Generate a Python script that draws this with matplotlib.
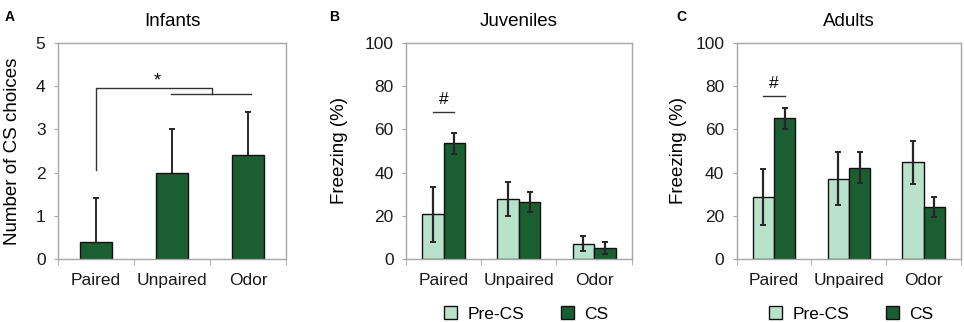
import numpy as np
import matplotlib
matplotlib.use("Agg")
import matplotlib.pyplot as plt

plt.rcParams['font.family'] = ['Liberation Sans', 'DejaVu Sans']

groups = ["Paired", "Unpaired", "Odor"]

# Panel A: infants
infant_mean = [0.4, 2.0, 2.4]
infant_err = [1.0, 1.0, 1.0]

# Panel B: juveniles (freezing %)
juv_pre = [20.6, 27.8, 7.1]
juv_pre_lo = [7.8, 19.8, 3.7]
juv_pre_hi = [33.2, 35.5, 10.5]
juv_cs = [53.7, 26.5, 5.1]
juv_cs_lo = [48.8, 21.9, 2.3]
juv_cs_hi = [58.2, 31.0, 7.9]

# Panel C: adults (freezing %)
ad_pre = [28.7, 37.1, 44.7]
ad_pre_lo = [15.6, 24.8, 34.5]
ad_pre_hi = [41.8, 49.4, 54.8]
ad_cs = [65.1, 42.3, 24.1]
ad_cs_lo = [60.3, 35.1, 19.3]
ad_cs_hi = [69.8, 49.4, 28.9]

dark = "#1b5e31"
light = "#b9e2cb"
spine_col = "#a6a6a6"
err_col = "#262626"

fig = plt.figure(figsize=(9.64, 3.22), dpi=100)


def style_axes(ax, ymax, step):
    for s in ax.spines.values():
        s.set_color(spine_col)
        s.set_linewidth(1.0)
    ax.set_xlim(-0.5, 2.5)
    ax.set_ylim(0, ymax)
    ax.set_yticks(np.arange(0, ymax + step / 2, step))
    ax.set_xticks([0, 1, 2])
    ax.set_xticklabels(groups, fontsize=12.5, color="#1a1a1a")
    ax.tick_params(axis='x', length=0, pad=10)
    ax.tick_params(axis='y', length=3, color=spine_col, labelsize=12.5,
                   labelcolor="#1a1a1a", pad=6)
    # category boundary ticks
    ax.set_xticks([-0.5, 0.5, 1.5, 2.5], minor=True)
    ax.tick_params(axis='x', which='minor', length=4, color=spine_col,
                   direction='out')


# ---- A ----
axA = fig.add_axes([0.0602, 0.1957, 0.2365, 0.671])
x = np.arange(3)
axA.bar(x, infant_mean, width=0.41, color=dark, edgecolor="#111111",
        linewidth=1.0, zorder=2)
infant_top = np.add(infant_mean, infant_err)
axA.vlines(x, infant_mean, infant_top, color=err_col, lw=1.4, zorder=3)
axA.plot(x, infant_top, ls='none', marker='_', ms=5, mew=1.4, color=err_col, zorder=3)
style_axes(axA, 5, 1)
axA.set_ylabel("Number of CS choices", fontsize=13.5, labelpad=11)
axA.set_title("Infants", fontsize=13.5, pad=12)
# significance bracket
axA.plot([0, 0, 1.53, 1.53], [2.05, 3.95, 3.95, 3.82], color="#333333", lw=1.0)
axA.plot([0.98, 2.04], [3.82, 3.82], color="#333333", lw=1.0)
axA.text(0.8, 3.92, "*", ha='center', va='bottom', fontsize=13)


def paired_panel(rect, pre, pre_lo, pre_hi, cs, cs_lo, cs_hi, title, hash_y,
                 legend_x, ylab_pad):
    ax = fig.add_axes(rect)
    w = 0.285
    xp = x - w / 2
    xc = x + w / 2
    ax.bar(xp, pre, width=w, color=light, edgecolor="#111111", linewidth=1.0,
           zorder=2, label="Pre-CS")
    ax.bar(xc, cs, width=w, color=dark, edgecolor="#111111", linewidth=1.0,
           zorder=2, label="CS")
    ax.errorbar(xp, pre, yerr=[np.subtract(pre, pre_lo), np.subtract(pre_hi, pre)],
                fmt='none', ecolor=err_col, elinewidth=1.6, capsize=2.5,
                capthick=1.4, zorder=3)
    ax.errorbar(xc, cs, yerr=[np.subtract(cs, cs_lo), np.subtract(cs_hi, cs)],
                fmt='none', ecolor=err_col, elinewidth=1.6, capsize=2.5,
                capthick=1.4, zorder=3)
    style_axes(ax, 100, 20)
    ax.set_ylabel("Freezing (%)", fontsize=13.5, labelpad=ylab_pad)
    ax.set_title(title, fontsize=13.5, pad=12)
    ax.plot([xp[0], xc[0]], [hash_y, hash_y], color="#333333", lw=1.0)
    ax.text(x[0], hash_y + 2.5, "#", ha='center', va='bottom', fontsize=12.5)
    ax.legend(loc='center', bbox_to_anchor=(legend_x, -0.255), ncol=2,
              frameon=False, fontsize=12.5, handlelength=0.75, handleheight=0.75,
              columnspacing=2.1, handletextpad=0.6)
    return ax


axB = paired_panel([0.4212, 0.1957, 0.2341, 0.671], juv_pre, juv_pre_lo, juv_pre_hi,
                   juv_cs, juv_cs_lo, juv_cs_hi, "Juveniles", 68, 0.532, 12)
axC = paired_panel([0.7642, 0.1957, 0.2327, 0.671], ad_pre, ad_pre_lo, ad_pre_hi,
                   ad_cs, ad_cs_lo, ad_cs_hi, "Adults", 75.4, 0.512, 6)

# panel letters
for lx, letter in [(0.005, "A"), (0.341, "B"), (0.702, "C")]:
    fig.text(lx, 0.947, letter, fontsize=10, fontweight='bold', va='center')

fig.savefig("out.png", dpi=100)
